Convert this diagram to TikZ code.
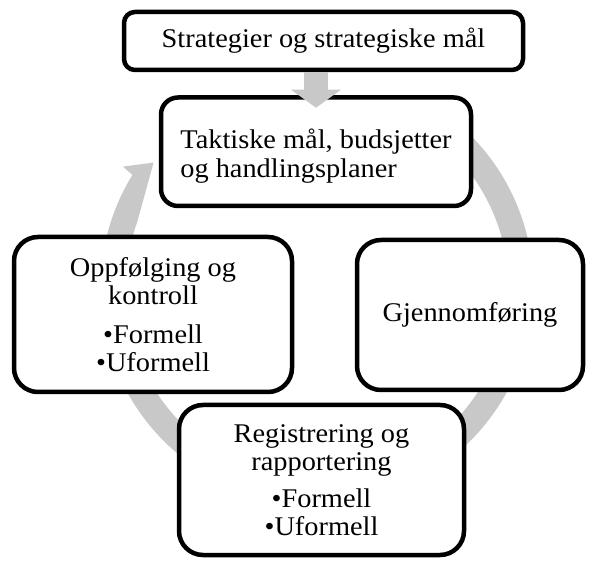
\documentclass[tikz,border=0pt]{standalone}
\usepackage{fontspec}
\setmainfont[FakeStretch=1.05]{Liberation Serif}
\usetikzlibrary{arrows.meta}
\definecolor{ringgray}{RGB}{200,200,200}
\begin{document}
\begin{tikzpicture}[x=1pt,y=1pt,
  box/.style={draw=black, line width=4.5pt, fill=white, inner sep=0pt,
    align=center, font=\fontsize{27}{28}\selectfont},
  flowarrow/.style={draw=ringgray, line width=24pt, -{Triangle[width=49pt,length=18pt]}}
]
\useasboundingbox[fill=white] (0,0) rectangle (593,561);
% cycle ring with arrowhead
\begin{scope}[shift={(317,273)}]
\fill[ringgray] (55:216.5) arc[start angle=55,end angle=-211.5,radius=216.5]
  -- (148:229) -- (142.5:206) -- (-200:191.5)
  arc[start angle=-200,end angle=55,radius=191.5] -- cycle;
\end{scope}
\node[box, rounded corners=11pt, minimum width=399pt, minimum height=58pt] (top) at (323.5,520) {Strategier og strategiske mål};
\node[box, rounded corners=17pt, minimum width=310pt, minimum height=108.5pt, align=left] (takt) at (316,409.25) {\rule{0pt}{29pt}Taktiske mål, budsjetter\\[1pt]og handlingsplaner};
\node[box, rounded corners=24pt, minimum width=278pt, minimum height=155pt] (opp) at (153,246.5) {Oppfølging og\\kontroll\\[11pt]•Formell\\•Uformell};
\node[box, rounded corners=24pt, minimum width=226pt, minimum height=150pt] (gjen) at (470,246) {Gjennomføring};
\node[box, rounded corners=24pt, minimum width=285pt, minimum height=150pt] (reg) at (321.5,81) {Registrering og\\rapportering\\[9pt]•Formell\\•Uformell};
\coordinate (tip) at ([yshift=-12.5pt]takt.north);
\draw[flowarrow] (top.south -| takt.north) -- (tip);
\end{tikzpicture}
\end{document}
